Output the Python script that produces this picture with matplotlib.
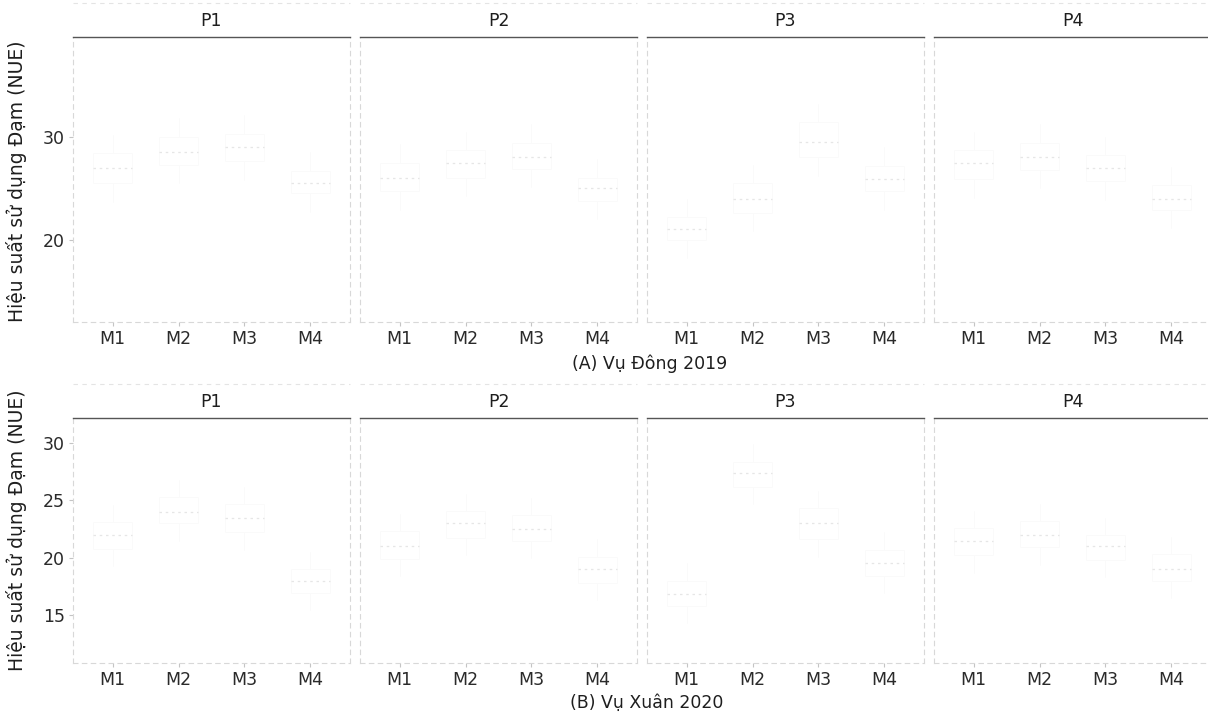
import numpy as np
import matplotlib
matplotlib.use("Agg")
import matplotlib.pyplot as plt

plt.rcParams['font.family'] = ['DejaVu Sans']

# ------------------------------------------------------------
# Data (read / estimated from the faded figure)
# ------------------------------------------------------------
phan = ["P1", "P2", "P3", "P4"]
moc = ["M1", "M2", "M3", "M4"]

# (A) Vu Dong 2019 -- rows: P1..P4, cols: M1..M4
dong_med = np.array([
    [27.0, 28.5, 29.0, 25.5],
    [26.0, 27.5, 28.0, 25.0],
    [21.0, 24.0, 29.5, 25.9],
    [27.5, 28.0, 27.0, 24.0],
])
dong_q1 = dong_med - np.array([
    [1.5, 1.2, 1.4, 1.0],
    [1.3, 1.5, 1.1, 1.2],
    [1.0, 1.4, 1.5, 1.2],
    [1.6, 1.2, 1.3, 1.1],
])
dong_q3 = dong_med + np.array([
    [1.4, 1.5, 1.3, 1.2],
    [1.5, 1.2, 1.4, 1.0],
    [1.2, 1.5, 1.9, 1.3],
    [1.2, 1.4, 1.2, 1.3],
])
dong_lo = dong_q1 - 1.8
dong_hi = dong_q3 + 1.8

# (B) Vu Xuan 2020
xuan_med = np.array([
    [22.0, 24.0, 23.5, 18.0],
    [21.0, 23.0, 22.5, 19.0],
    [16.8, 27.4, 23.0, 19.5],
    [21.5, 22.0, 21.0, 19.0],
])
xuan_q1 = xuan_med - np.array([
    [1.2, 1.0, 1.3, 1.1],
    [1.1, 1.3, 1.0, 1.2],
    [1.0, 1.2, 1.4, 1.1],
    [1.3, 1.1, 1.2, 1.0],
])
xuan_q3 = xuan_med + np.array([
    [1.1, 1.3, 1.2, 1.0],
    [1.3, 1.1, 1.2, 1.1],
    [1.2, 1.0, 1.3, 1.2],
    [1.1, 1.2, 1.0, 1.3],
])
xuan_lo = xuan_q1 - 1.5
xuan_hi = xuan_q3 + 1.5

ylabel = "Hiệu suất sử dụng Đạm (NUE)"

seasons = [
    dict(title="(A) Vụ Đông 2019", med=dong_med, q1=dong_q1, q3=dong_q3,
         lo=dong_lo, hi=dong_hi, ylim=(12.0, 39.7), yticks=[20, 30],
         bottom=322, top=37, ylab_y=181, title_xy=(650, 364)),
    dict(title="(B) Vụ Xuân 2020", med=xuan_med, q1=xuan_q1, q3=xuan_q3,
         lo=xuan_lo, hi=xuan_hi, ylim=(10.8, 32.2), yticks=[15, 20, 25, 30],
         bottom=663, top=418, ylab_y=530, title_xy=(647, 703)),
]

# ------------------------------------------------------------
# Plot
# ------------------------------------------------------------
W, H = 1208, 713
fig = plt.figure(figsize=(W / 100, H / 100), dpi=100)

left0 = 73
pw = 277
gap = 10
txt_col = "#2a2a2a"
faint = "#d8d8d8"

for s in seasons:
    for i, p in enumerate(phan):
        x0 = left0 + i * (pw + gap)
        ax = fig.add_axes([x0 / W, 1 - s["bottom"] / H, pw / W,
                           (s["bottom"] - s["top"]) / H])
        stats = []
        for j in range(len(moc)):
            stats.append(dict(med=s["med"][i, j], q1=s["q1"][i, j],
                              q3=s["q3"][i, j], whislo=s["lo"][i, j],
                              whishi=s["hi"][i, j], fliers=[]))
        ax.bxp(stats, positions=np.arange(1, 5), widths=0.6,
               showfliers=False, patch_artist=True,
               boxprops=dict(facecolor="white", edgecolor="#fafafa", lw=0.6),
               whiskerprops=dict(color="#fafafa", lw=0.6),
               capprops=dict(color="white", lw=0),
               medianprops=dict(color="#e6e6e6", lw=0.9, ls=(0, (2, 3))))

        ax.set_xlim(0.4, 4.6)
        ax.set_ylim(*s["ylim"])
        ax.set_xticks(np.arange(1, 5))
        ax.set_xticklabels(moc, fontsize=12.5, color=txt_col)
        ax.set_yticks(s["yticks"])
        if i == 0:
            ax.set_yticklabels([str(t) for t in s["yticks"]], fontsize=12.5,
                               color=txt_col)
        else:
            ax.tick_params(axis="y", left=False, labelleft=False)
        ax.tick_params(axis="both", length=3, color="#c4c4c4", pad=3)

        # panel border: faint dashes, strip line on top
        for side in ["left", "right", "bottom"]:
            ax.spines[side].set_color(faint)
            ax.spines[side].set_linestyle((0, (4, 4)))
            ax.spines[side].set_linewidth(0.8)
        ax.spines["top"].set_color("#555555")
        ax.spines["top"].set_linewidth(1.0)

        # strip label
        ax.text(0.5, 1 + 16 / (s["bottom"] - s["top"]), p,
                transform=ax.transAxes, ha="center", va="center",
                fontsize=12.5, color="#1e1e1e")
        ax.plot([0, 1], [1 + 34 / (s["bottom"] - s["top"])] * 2,
                transform=ax.transAxes, clip_on=False, color="#e4e4e4",
                lw=0.8, ls=(0, (4, 4)))

    # y label for the row
    fig.text(17 / W, 1 - s["ylab_y"] / H, ylabel, rotation=90, ha="center",
             va="center", fontsize=13.5, color="#1e1e1e")

    tx, ty = s["title_xy"]
    fig.text(tx / W, 1 - ty / H, s["title"], ha="center", va="center",
             fontsize=12.5, color="#1e1e1e")

fig.savefig("out.png", dpi=100)
